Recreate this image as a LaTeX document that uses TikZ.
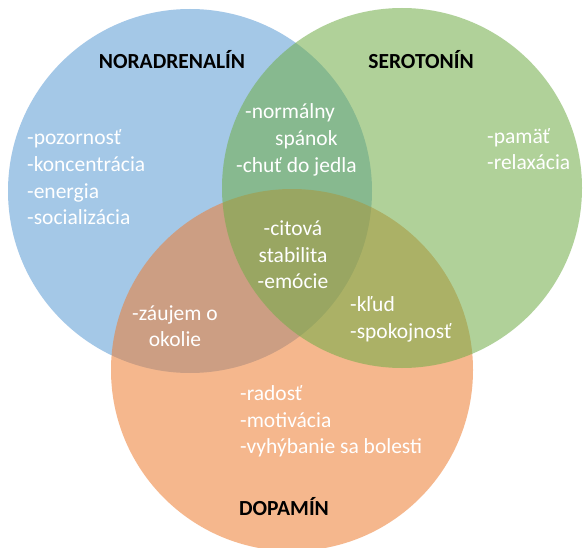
\documentclass[tikz,border=0pt]{standalone}
\usepackage{fontspec}
\setmainfont{Carlito}
\definecolor{vblue}{HTML}{5B9BD5}
\definecolor{vgreen}{HTML}{70AD47}
\definecolor{vorange}{HTML}{ED7D31}
\begin{document}
\begin{tikzpicture}[x=1pt,y=1pt,
  venn/.style={fill opacity=0.55},
  ttl/.style={inner sep=0pt,anchor=base,font=\fontsize{21.5}{26}\selectfont\bfseries,text=black},
  lbl/.style={inner sep=0pt,anchor=base west,font=\fontsize{21.5}{26}\selectfont,text=white},
  lblc/.style={lbl,anchor=base}]
\useasboundingbox (0,0) rectangle (583,-548);
\fill[white] (0,0) rectangle (583,-548);
% circles
\fill[vblue,venn] (190,-191) circle[radius=182];
\fill[vorange,venn] (292,-370) circle[radius=181];
\fill[vgreen,venn] (402,-188) circle[radius=180];
% titles
\node[ttl] (tn) at (172,-69) {NORADRENALÍN};
\node[ttl] (ts) at (421,-69) {SEROTONÍN};
\node[ttl] (td) at (284,-515) {DOPAMÍN};
% noradrenalin
\node[lbl] (n1) at (27,-145) {-pozornosť};
\node[lbl] (n2) at (27,-171.5) {-koncentrácia};
\node[lbl] (n3) at (27,-198) {-energia};
\node[lbl] (n4) at (27,-224.5) {-socializácia};
% noradrenalin & serotonin
\node[lbl] (ns1) at (245,-119) {-normálny};
\node[lbl] (ns2) at (275,-146) {spánok};
\node[lbl] (ns3) at (236,-173) {-chuť do jedla};
% serotonin
\node[lbl] (s1) at (487,-144) {-pamäť};
\node[lbl] (s2) at (487,-170) {-relaxácia};
% all three
\node[lblc] (c1) at (293,-235) {-citová};
\node[lblc] (c2) at (293,-262) {stabilita};
\node[lblc] (c3) at (293,-288) {-emócie};
% serotonin & dopamin
\node[lbl] (sd1) at (350,-311) {-kľud};
\node[lbl] (sd2) at (350,-338) {-spokojnosť};
% noradrenalin & dopamin
\node[lblc] (nd1) at (175,-320) {-záujem o};
\node[lblc] (nd2) at (175,-346) {okolie};
% dopamin
\node[lbl] (d1) at (240,-400) {-radosť};
\node[lbl] (d2) at (240,-427) {-motivácia};
\node[lbl] (d3) at (240,-453) {-vyhýbanie sa bolesti};
\end{tikzpicture}
\end{document}
